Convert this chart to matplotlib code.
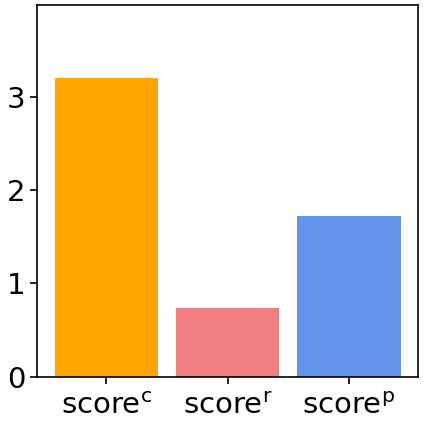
import matplotlib
matplotlib.use("Agg")
import matplotlib.pyplot as plt

labels = [r"score$^{\rm c}$", r"score$^{\rm r}$", r"score$^{\rm p}$"]
values = [3.20, 0.74, 1.72]
colors = ["orange", "lightcoral", "cornflowerblue"]

fig, ax = plt.subplots(figsize=(4.23, 4.21), dpi=100)
ax.bar(range(len(values)), values, width=0.85, color=colors)
ax.set_xticks(range(len(values)))
ax.set_xticklabels(labels)
ax.set_ylim(0, 3.98)
ax.set_yticks([0, 1, 2, 3])
ax.tick_params(labelsize=21, length=5, width=1.2)
ax.tick_params(axis="x", pad=6)
for s in ax.spines.values():
    s.set_linewidth(1.2)

plt.subplots_adjust(left=0.088, right=0.988, top=0.988, bottom=0.105)
plt.savefig("out.png", dpi=100)
